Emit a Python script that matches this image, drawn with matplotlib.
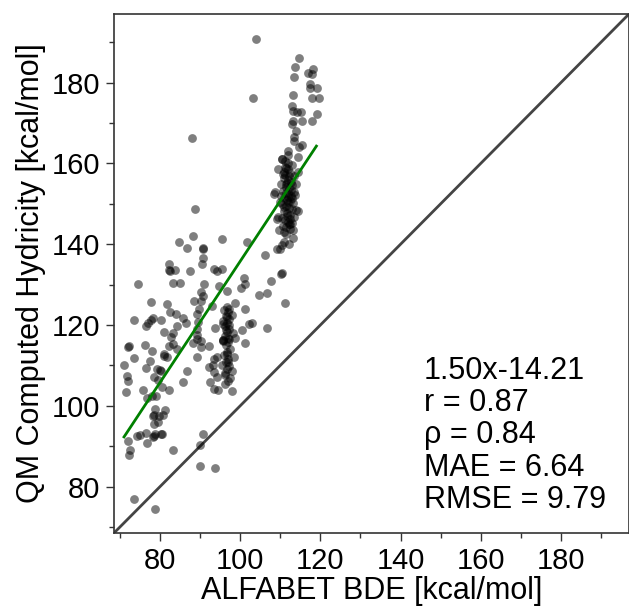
import matplotlib
matplotlib.use("Agg")
import matplotlib.pyplot as plt
import numpy as np

plt.rcParams['font.family'] = ['Liberation Sans', 'DejaVu Sans']

# ---- data ----
upper_x = [88, 104, 103.25, 114.7, 113.7, 113.4, 118.25, 116.8, 118, 117.5, 117.3, 119.25, 118, 119.7,
           113.1, 113, 113.25, 114.25, 115.25, 113.25, 115.3, 119.2, 117.8, 112.8, 113.8, 113.5, 113.3,
           115.5, 114.7, 111.9, 112, 114.3, 110.5, 108.6]
upper_y = [166.4, 190.9, 176.3, 186.2, 183.8, 181.4, 183.5, 182.3, 182.1, 179.7, 178.8, 178.7, 176.3, 176.2,
           176.9, 174.1, 173.1, 172.7, 172.8, 170.6, 170.6, 172.3, 170.4, 169.8, 168.1, 166.5, 165.5,
           164.6, 164.0, 163.2, 162.0, 161.7, 161.2, 152.9]

core_x = [110.5, 111.2, 112.0, 112.8, 111.5, 110.8, 112.5, 113.3, 111.0, 111.8, 112.6, 110.2, 113.0, 111.4,
          112.2, 110.6, 113.5, 111.9, 112.7, 110.9, 111.6, 112.4, 113.2, 110.4, 111.3, 112.1, 112.9, 110.8,
          111.7, 112.5, 113.4, 110.3, 111.1, 111.9, 112.8, 110.7, 111.5, 112.3, 113.1, 111.0, 112.0, 111.2,
          112.0, 111.4, 112.3, 109.5, 109.8, 114.0, 114.3, 109.3, 113.8, 111.6, 112.2, 110.9, 111.8, 112.6,
          111.3, 112.9, 110.6, 111.7, 112.4, 111.1, 113.6, 110.1, 112.1]
core_y = [161.0, 160.5, 160.0, 159.5, 158.8, 158.0, 157.6, 157.0, 156.5, 156.0, 155.5, 155.0, 154.6, 154.2,
          153.8, 153.2, 153.0, 152.6, 152.0, 151.5, 151.0, 150.6, 150.2, 150.0, 149.5, 149.0, 148.6, 148.2,
          147.8, 147.2, 146.8, 146.5, 146.0, 145.6, 145.2, 144.6, 144.2, 143.8, 143.4, 143.0, 158.5, 157.2,
          151.8, 152.8, 146.2, 158.5, 150.5, 155.0, 158.0, 146.8, 148.5, 155.2, 156.8, 149.2, 150.4, 153.4,
          154.8, 151.4, 157.4, 147.0, 144.9, 159.2, 152.2, 152.0, 145.0]

mid_x = [108.4, 114.5, 109.25, 109.7, 111.3, 113.25, 110.9, 112.2, 110.5, 109.1, 109.9, 101.75, 95.5, 106.3,
         110.2, 110.3, 107.7, 101, 101.3, 100.3, 95.5, 106.6, 104.75, 111.1, 96.6, 98.8, 101.2, 97.3, 95.9,
         102.2, 103, 100.5, 106.7, 98.8, 101.2]
mid_y = [152.4, 148.3, 146.2, 143.4, 142.5, 141.5, 140.5, 140.1, 139.7, 138.8, 138.7, 140.5, 141.3, 137.4,
         132.7, 132.9, 130.9, 131.7, 130.2, 129.1, 133.8, 128.0, 127.4, 125.5, 128.4, 125.4, 123.9, 124.0, 123.6,
         120.3, 120.5, 118.8, 119.2, 116.9, 115.6]

left_x = [88.8, 88.3, 84.8, 86.75, 90.7, 90.8, 90.75, 90.5, 82.3, 82.25, 82.4, 83.7, 87.4, 93.5, 94.3, 74.6,
          83.1, 85, 91, 90.3, 90.6, 94.7, 77.7, 81.8, 88.5, 90.3, 92.9, 82.4, 84, 85.6, 86.4, 89.75, 89.3,
          73.5, 77.7, 77, 76.6, 78.3, 80.3, 84.2, 81, 82.8, 83.1, 89.5, 89.1, 89.3, 93.75, 95.6, 72, 72.2,
          76.2, 82.25, 83.3, 84.3, 88.2, 89.3, 90.3, 90.3, 92.25, 95.6, 95.8, 77.9, 81]
left_y = [148.8, 142.1, 140.6, 139.0, 138.9, 139.1, 136.6, 135.0, 135.2, 133.5, 133.3, 133.7, 133.3, 133.8,
          133.3, 130.1, 130.4, 130.5, 130.1, 128.1, 127.3, 129.6, 125.7, 125.1, 125.9, 125.9, 124.7, 123.2,
          122.8, 121.7, 120.6, 124.0, 122.8, 121.2, 121.2, 120.6, 119.8, 121.7, 121.3, 119.8, 118.3, 117.0,
          118.1, 120.7, 119.1, 117.5, 119.3, 120.3, 114.6, 114.8, 115.0, 114.8, 115.4, 114.1, 115.6, 116.6,
          116.0, 114.5, 114.7, 116.0, 116.2, 113.5, 112.9]

low_x = [71, 73.5, 76.4, 77.4, 79.3, 80.2, 80.0, 81, 81.8, 71.7, 72, 78.5, 79.6, 71.5, 75.8, 80.6, 82.3,
         85.6, 86.8, 76.8, 78.1, 78.9, 78.7, 81.2, 78.3, 78.5, 79.75, 80.8, 78.5, 79.6, 74.2, 75, 76.6, 78.3,
         78.7, 78.5, 80.5, 80.3, 76.7, 72, 72.5, 72.25, 83.3, 90.7, 89.9, 90, 93.75, 73.4, 78.7, 89.3, 93.5,
         94.3, 92.1, 93.3, 92.5, 93.5, 94.3, 93.5, 94.5, 96.75, 96.9, 96.2, 98]
low_y = [110.2, 111.9, 109.3, 111.2, 109.1, 108.7, 108.9, 112.2, 112.0, 107.3, 106.2, 107.2, 106.5, 103.5,
         103.8, 104.6, 103.8, 105.8, 108.5, 102.0, 102.3, 102.5, 99.3, 99.0, 97.5, 97.7, 97.5, 97.8, 95.6,
         96.0, 92.5, 92.7, 93.3, 92.3, 92.9, 92.6, 92.9, 93.1, 90.9, 91.4, 89.1, 87.7, 89.1, 92.9, 90.2, 85.0,
         84.6, 77.0, 74.4, 112.0, 111.6, 112.0, 109.7, 110.0, 106.0, 108.3, 107.2, 104.2, 104.0, 112.8, 110.8,
         107.7, 103.6]

clusterB_x = [96.6, 97.0, 96.4, 97.2, 96.8, 96.3, 97.1, 96.7, 96.2, 97.3, 96.9, 96.5, 97.4, 96.8, 96.0, 97.0,
              96.4, 97.2, 96.6, 96.1, 97.5, 96.9, 96.3, 98.0, 95.8, 98.2, 95.6, 98.5, 95.5, 98.0, 96.7, 97.1,
              96.5, 96.9]
clusterB_y = [124.5, 123.2, 122.3, 121.5, 120.6, 119.8, 119.0, 118.2, 117.3, 116.5, 115.8, 115.0, 114.0,
              113.2, 112.5, 111.6, 110.8, 109.8, 109.0, 108.0, 107.0, 106.2, 105.4, 122.5, 121.0, 118.0,
              116.2, 112.0, 110.0, 108.5, 121.9, 120.1, 118.7, 116.9]

fit_slope = 1.50
fit_intercept = -14.21
stats_lines = ["1.50x-14.21", "r = 0.87", "\u03c1 = 0.84", "MAE = 6.64", "RMSE = 9.79"]

lims = [68.5, 197.0]
major_ticks = [80, 100, 120, 140, 160, 180]
minor_ticks = [70, 90, 110, 130, 150, 170, 190]
xlabel = "ALFABET BDE [kcal/mol]"
ylabel = "QM Computed Hydricity [kcal/mol]"

x = np.array(upper_x + core_x + mid_x + left_x + low_x + clusterB_x)
y = np.array(upper_y + core_y + mid_y + left_y + low_y + clusterB_y)

fig = plt.figure(figsize=(6.29, 6.08), dpi=100)
ax = fig.add_axes([114/629, 75/608, 515/629, 519/608])

ax.scatter(x, y, s=40, c='black', alpha=0.5, linewidths=0, zorder=2)
ax.plot(lims, lims, color='#444444', lw=2, zorder=1)
fx = np.array([x.min(), 119.0])
ax.plot(fx, fit_slope * fx + fit_intercept, color='green', lw=2, zorder=3)

ax.set_xlim(lims)
ax.set_ylim(lims)
ax.set_xticks(major_ticks)
ax.set_yticks(major_ticks)
ax.set_xticks(minor_ticks, minor=True)
ax.set_yticks(minor_ticks, minor=True)
ax.tick_params(which='major', direction='out', length=6, width=1, labelsize=21, color='#333333', pad=4)
ax.tick_params(which='minor', direction='out', length=3.5, width=1, color='#333333')
for sp in ax.spines.values():
    sp.set_color('#333333')
    sp.set_linewidth(1.2)

ax.set_xlabel(xlabel, fontsize=22, labelpad=1)
ax.set_ylabel(ylabel, fontsize=22, labelpad=4)

ax.text(0.602, 0.035, "\n".join(stats_lines), transform=ax.transAxes, fontsize=22,
        ha='left', va='bottom', linespacing=1.1)

fig.savefig("out.png", dpi=100)
